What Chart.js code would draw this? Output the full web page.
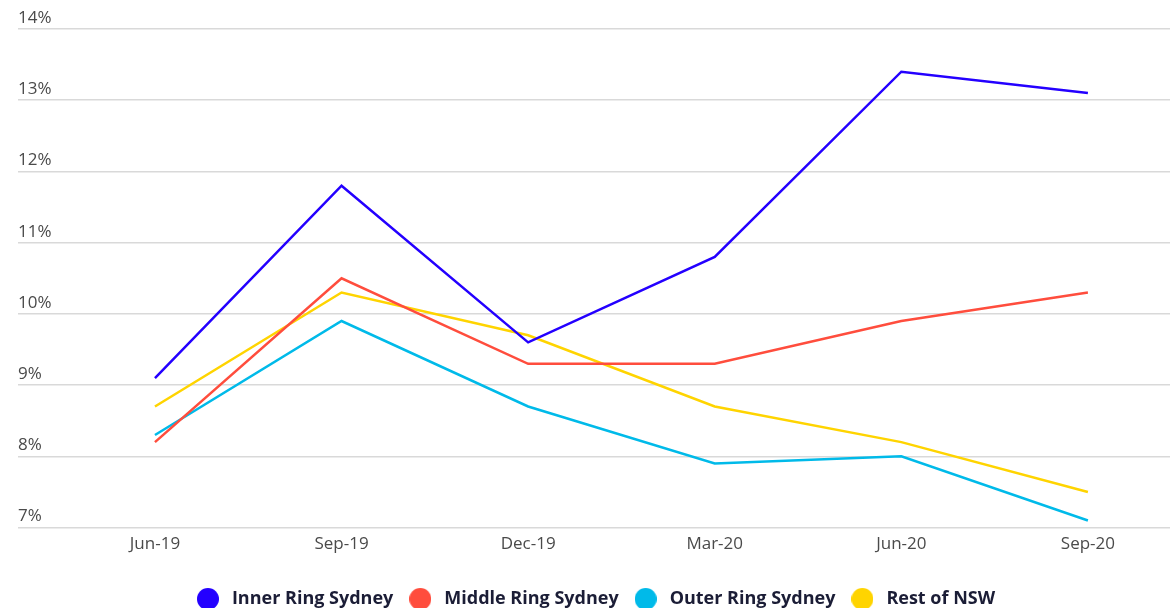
<!DOCTYPE html>
<html>
<head>
<meta charset="utf-8">
<script src="https://cdn.jsdelivr.net/npm/chart.js@4"></script>
<style>
  html, body { margin: 0; padding: 0; background: #fff; }
  #wrap { width: 1170px; height: 608px; position: relative; }
</style>
</head>
<body>
<div id="wrap"><canvas id="chart"></canvas></div>
<script>
// quarters and rates (%)
const quarters = ['Jun-19', 'Sep-19', 'Dec-19', 'Mar-20', 'Jun-20', 'Sep-20'];
const innerRing = [9.1, 11.8, 9.6, 10.8, 13.4, 13.1];
const middleRing = [8.2, 10.5, 9.3, 9.3, 9.9, 10.3];
const outerRing = [8.3, 9.9, 8.7, 7.9, 8.0, 7.1];
const restOfNsw = [8.7, 10.3, 9.7, 8.7, 8.2, 7.5];
const yTicks = [7, 8, 9, 10, 11, 12, 13, 14];

const FONT = "'Open Sans', 'Noto Sans', sans-serif";

// round legend marker, 22px across
function dot(color) {
  const c = document.createElement('canvas');
  c.width = 22; c.height = 22;
  const g = c.getContext('2d');
  g.fillStyle = color;
  g.beginPath();
  g.arc(11, 11, 11, 0, Math.PI * 2);
  g.fill();
  return c;
}

function series(label, values, color) {
  return {
    label,
    data: values.map((v, i) => ({ x: i, y: v })),
    borderColor: color,
    backgroundColor: color,
    borderWidth: 2.5,
    pointRadius: 0,
    pointHoverRadius: 0,
    pointStyle: dot(color),
    tension: 0
  };
}

new Chart(document.getElementById('chart'), {
  type: 'line',
  data: {
    datasets: [
      series('Inner Ring Sydney', innerRing, '#2400ff'),
      series('Middle Ring Sydney', middleRing, '#ff4d3d'),
      series('Outer Ring Sydney', outerRing, '#00bae9'),
      series('Rest of NSW', restOfNsw, '#ffd400')
    ]
  },
  options: {
    responsive: true,
    maintainAspectRatio: false,
    animation: false,
    // legend sits a little lower than the default box allows
    layout: { padding: { top: 29, left: 18, right: 0, bottom: -10 } },
    plugins: {
      tooltip: { enabled: false },
      legend: {
        position: 'bottom',
        labels: {
          usePointStyle: true,
          pointStyleWidth: 30,
          boxHeight: 16,
          padding: 12,
          color: '#1b1d36',
          font: { family: FONT, size: 18, weight: '700' }
        }
      }
    },
    scales: {
      x: {
        type: 'linear',
        min: -0.734,
        max: 5.44,
        grid: { display: false, drawTicks: false },
        border: { display: false },
        afterBuildTicks: axis => { axis.ticks = quarters.map((q, i) => ({ value: i })); },
        afterFit: axis => { axis.height = 50.4; },
        ticks: {
          includeBounds: false,
          padding: 6,
          color: '#4a4a4a',
          font: { family: FONT, size: 17 },
          callback: v => quarters[v]
        }
      },
      y: {
        min: yTicks[0],
        max: yTicks[yTicks.length - 1],
        afterBuildTicks: axis => { axis.ticks = yTicks.map(v => ({ value: v })); },
        grid: { color: '#d9d9d9', lineWidth: 1.5, drawTicks: false },
        border: { display: false },
        ticks: {
          mirror: true,
          padding: 0,
          labelOffset: -11,
          color: '#4a4a4a',
          font: { family: FONT, size: 17 },
          callback: v => v + '%'
        }
      }
    }
  }
});
</script>
</body>
</html>
